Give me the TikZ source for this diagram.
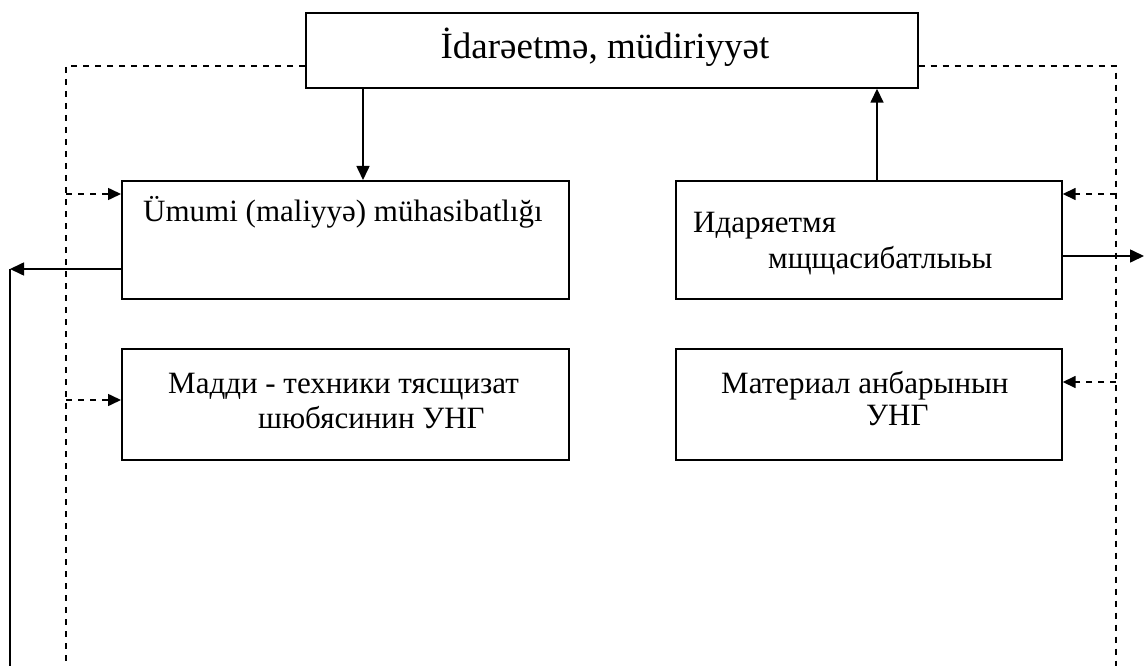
\documentclass[tikz,border=0pt]{standalone}
\usepackage{fontspec}
\setmainfont{Liberation Serif}
\usetikzlibrary{arrows.meta}
\begin{document}
\begin{tikzpicture}[x=1pt,y=-1pt,
  box/.style={draw,line width=1.7pt,rectangle,inner sep=0pt,anchor=north west},
  lbl/.style={anchor=base west,inner sep=0pt,font=\fontsize{31}{37}\selectfont},
  arr/.style={line width=1.6pt,-{Triangle[length=14pt,width=13pt]}},
  dashln/.style={line width=1.6pt,dash pattern=on 6pt off 6pt},
  dasharr/.style={dashln,-{Triangle[length=13pt,width=12pt]}}]
\useasboundingbox (0,0) rectangle (1146,666);

% boxes
\node[box,minimum width=612pt,minimum height=75pt] (top) at (305,12) {};
\node[box,minimum width=447pt,minimum height=118pt] (ul) at (121,180) {};
\node[box,minimum width=386pt,minimum height=118pt] (ur) at (675,180) {};
\node[box,minimum width=447pt,minimum height=111pt] (ll) at (121,348) {};
\node[box,minimum width=386pt,minimum height=111pt] (lr) at (675,348) {};

% texts
\node[anchor=base,inner sep=0pt,font=\fontsize{37}{43}\selectfont] (ttop) at (605,59) {İdarəetmə, müdiriyyət};
\node[lbl] (tul) at (143,221) {Ümumi (maliyyə) mühasibatlığı};
\node[lbl] (tur1) at (693,232) {Идаряетмя};
\node[lbl] (tur2) at (768,268) {мщщасибатлыьы};
\node[lbl] (tll1) at (168,393) {Мадди - техники тясщизат};
\node[lbl] (tll2) at (258,428) {шюбясинин УНГ};
\node[lbl] (tlr1) at (721,393) {Материал анбарынын};
\node[lbl] (tlr2) at (866,425) {УНГ};

% reference positions for connectors
\coordinate (xdown) at (363,0);
\coordinate (xup) at (877,0);
\coordinate (ydash) at (0,66);
\coordinate (lv) at (66,666);
\coordinate (rv) at (1116,666);
\coordinate (ya) at (0,194);
\coordinate (yb) at (0,400);
\coordinate (yc) at (0,382);
\coordinate (yout) at (0,269);
\coordinate (youtr) at (0,256);
\coordinate (xl) at (10,666);
\coordinate (xr) at (1144,0);

% solid flows
\draw[arr] (xdown |- top.south) -- (xdown |- ul.north);
\draw[arr] (xup |- ur.north) -- (xup |- top.south);
\draw[arr] (ul.west |- yout) -- (xl |- yout);
\draw[line width=1.6pt] (xl |- yout) -- (xl);
\draw[arr] (ur.east |- youtr) -- (xr |- youtr);

% dashed feedback lines
\draw[dashln] (top.west |- ydash) -| (lv);
\draw[dashln] (top.east |- ydash) -| (rv);
\draw[dasharr] (lv |- ya) -- (ul.west |- ya);
\draw[dasharr] (lv |- yb) -- (ll.west |- yb);
\draw[dasharr] (rv |- ya) -- (ur.east |- ya);
\draw[dasharr] (rv |- yc) -- (lr.east |- yc);
\end{tikzpicture}
\end{document}
